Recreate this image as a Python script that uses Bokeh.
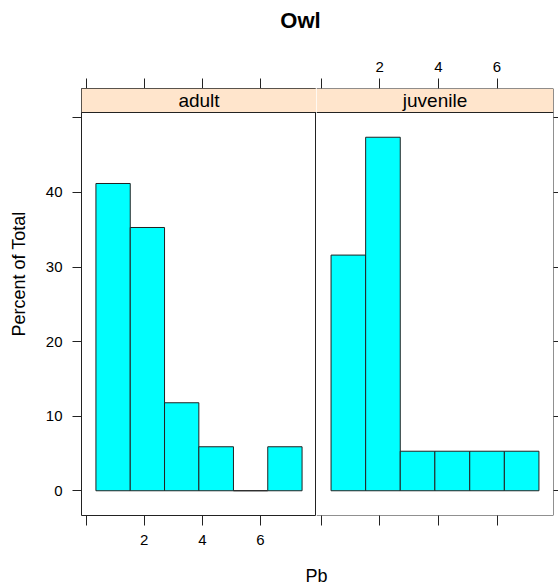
import numpy as np
from bokeh.plotting import figure
from bokeh.models import Range1d, FixedTicker, BoxAnnotation, Label, LinearAxis, Span
from bokeh.layouts import row, column
from bokeh.embed import file_html
from bokeh.resources import INLINE

# ---- data ----
panels = ["adult", "juvenile"]
breaks = [0.34, 1.52, 2.70, 3.88, 5.07, 6.25, 7.43]
adult_pct = [41.2, 35.3, 11.8, 5.9, 0.0, 5.9]
juvenile_pct = [31.6, 47.4, 5.3, 5.3, 5.3, 5.3]
x_ticks = [0, 2, 4, 6]
y_ticks = [0, 10, 20, 30, 40, 50]
title_text = "Owl"
x_label = "Pb"
y_label = "Percent of Total"

FONT = "Liberation Sans"
BAR_FILL = "#00FFFF"
STRIP_FILL = "#FFE5CC"
EDGE = "#222222"

# lattice-style padded limits
span = breaks[-1] - breaks[0]
X0, X1 = breaks[0] - 0.07 * span, breaks[-1] + 0.07 * span
ymax = max(max(adult_pct), max(juvenile_pct))
Y0, Y1 = -0.07 * ymax, 1.07 * ymax
PANEL_PX, STRIP_PX = 403, 24
Y_TOP = Y1 + STRIP_PX * (Y1 - Y0) / PANEL_PX

BORDER_TOP, BORDER_BOTTOM = 40, 40
ROW_H = BORDER_TOP + STRIP_PX + PANEL_PX + BORDER_BOTTOM
YLAB_W = 30


def style_axis(ax, show_labels, tick_out, standoff):
    ax.axis_line_color = None
    ax.major_tick_in = 0
    ax.major_tick_out = tick_out
    ax.minor_tick_in = 0
    ax.minor_tick_out = 0
    ax.major_tick_line_color = EDGE
    ax.major_label_text_font = FONT
    ax.major_label_text_font_size = "15px" if show_labels else "0px"
    ax.major_label_text_color = "black" if show_labels else None
    ax.major_label_standoff = standoff if show_labels else 0


def make_panel(name, pct, first):
    if first:
        w, mbl, mbr = 286, 51, 0
    else:
        w, mbl, mbr = 242, 0, 5
    p = figure(width=w, height=ROW_H, x_range=Range1d(X0, X1),
               y_range=Range1d(Y0, Y_TOP), output_backend="svg",
               toolbar_location=None, x_axis_location=None,
               y_axis_location=None, min_border_left=mbl,
               min_border_right=mbr, min_border_top=BORDER_TOP,
               min_border_bottom=BORDER_BOTTOM)
    p.grid.visible = False
    p.xgrid.visible = False
    p.ygrid.visible = False
    p.background_fill_color = "white"
    p.border_fill_color = "white"

    # bars
    p.quad(left=breaks[:-1], right=breaks[1:], bottom=0, top=pct,
           fill_color=BAR_FILL, line_color=EDGE, line_width=1)

    # axes
    bottom = LinearAxis(ticker=FixedTicker(ticks=x_ticks))
    style_axis(bottom, first, 10, 9)
    bottom.major_label_overrides = {0: ""}
    p.add_layout(bottom, "below")

    top = LinearAxis(ticker=FixedTicker(ticks=x_ticks))
    style_axis(top, not first, 10, 7)
    top.major_label_overrides = {0: ""}
    p.add_layout(top, "above")

    if first:
        left = LinearAxis(ticker=FixedTicker(ticks=y_ticks))
        style_axis(left, True, 9, 10)
        left.major_label_overrides = {50: ""}
        p.add_layout(left, "left")
    else:
        right = LinearAxis(ticker=FixedTicker(ticks=y_ticks))
        style_axis(right, False, 5, 0)
        p.add_layout(right, "right")

    # strip
    p.add_layout(BoxAnnotation(bottom=Y1, fill_color=STRIP_FILL,
                               fill_alpha=1.0, line_color=None))
    p.add_layout(Span(location=Y1, dimension="width", line_color=EDGE,
                      line_width=1))
    p.add_layout(Label(x=(X0 + X1) / 2, y=(Y1 + Y_TOP) / 2, text=name,
                       text_align="center", text_baseline="middle",
                       text_font=FONT, text_font_size="19px",
                       text_color="black"))

    # panel border: the first panel owns the shared divider
    if first:
        p.outline_line_color = EDGE
        p.outline_line_width = 1
    else:
        p.outline_line_color = None
        for loc, dim in ((Y_TOP, "width"), (Y0, "width"), (X1, "height")):
            p.add_layout(Span(location=loc, dimension=dim, line_color=EDGE,
                              line_width=1))
    return p


def text_fig(width, height, txt, x, y, size, bold=False, angle=0.0):
    f = figure(width=width, height=height, x_range=Range1d(0, 1),
               y_range=Range1d(0, 1), output_backend="svg",
               toolbar_location=None, x_axis_location=None,
               y_axis_location=None, min_border=0)
    f.outline_line_color = None
    f.grid.visible = False
    f.add_layout(Label(x=x, y=y, x_units="screen", y_units="screen",
                       text=txt, text_align="center", text_baseline="middle",
                       text_font=FONT, text_font_size=size, angle=angle,
                       text_font_style="bold" if bold else "normal",
                       text_color="black"))
    return f


p1 = make_panel(panels[0], adult_pct, True)
p2 = make_panel(panels[1], juvenile_pct, False)
tfig = text_fig(558, 48, title_text, 300, 28, "22px", bold=True)
# y label centred on the panel body (below the strip)
ylab_y = BORDER_BOTTOM + PANEL_PX / 2
yfig = text_fig(YLAB_W, ROW_H, y_label, 18, ylab_y, "18px", angle=np.pi / 2)
xfig = text_fig(558, 33, x_label, 316, 13, "18px")

layout = column(tfig, row(yfig, p1, p2), xfig)
open("out.html", "w").write(file_html(layout, INLINE))
